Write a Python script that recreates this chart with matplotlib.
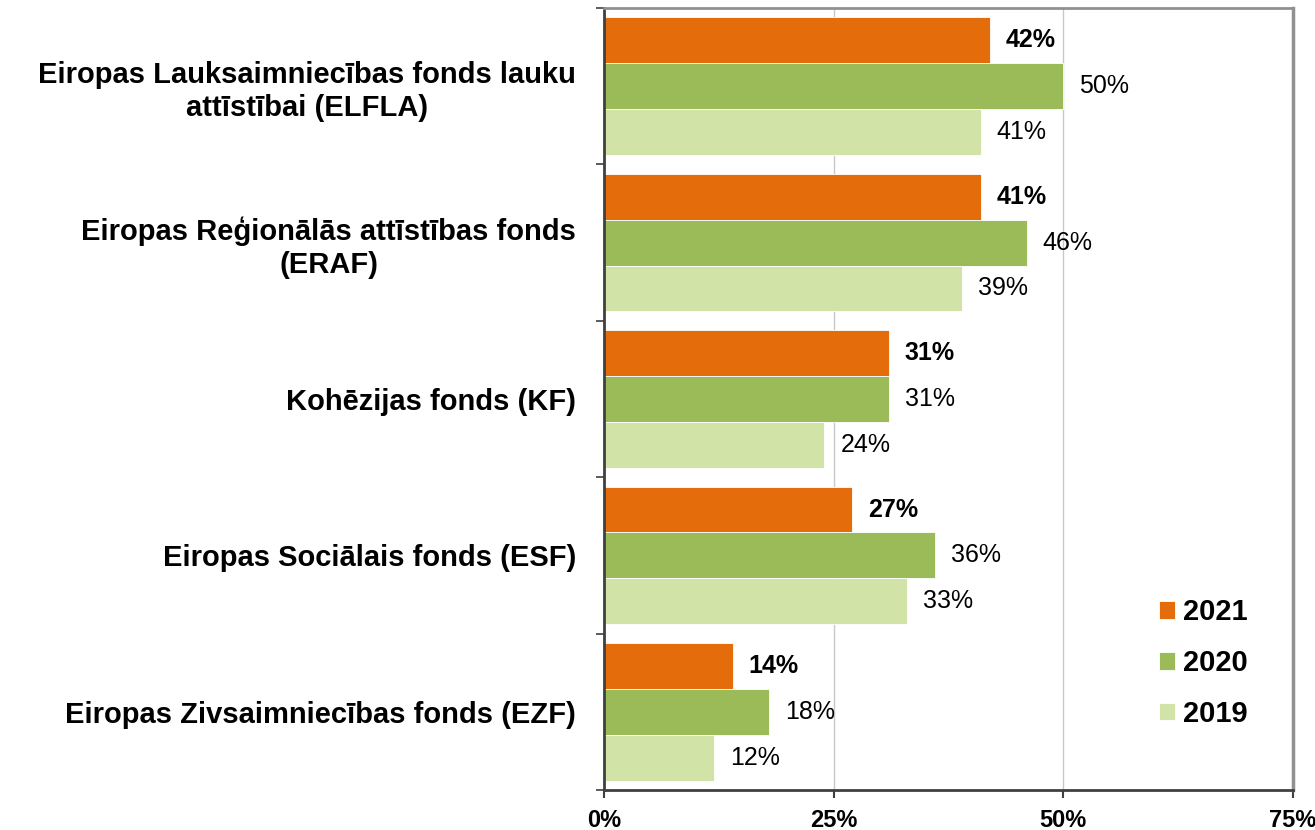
import numpy as np
import matplotlib.pyplot as plt

plt.rcParams["font.family"] = ["Liberation Sans", "DejaVu Sans"]

funds = [
    "Eiropas Lauksaimniecības fonds lauku\nattīstībai (ELFLA)",
    "Eiropas Reģionālās attīstības fonds\n(ERAF)",
    "Kohēzijas fonds (KF)",
    "Eiropas Sociālais fonds (ESF)",
    "Eiropas Zivsaimniecības fonds (EZF)",
]
years = ["2021", "2020", "2019"]
v2021 = [42, 41, 31, 27, 14]
v2020 = [50, 46, 31, 36, 18]
v2019 = [41, 39, 24, 33, 12]

ORANGE = "#E46C0A"
GREEN = "#9BBB59"
LIGHT = "#D2E3A8"

fig = plt.figure(figsize=(13.15, 8.3), dpi=100)
ax = fig.add_axes([604 / 1315, 40 / 830, 689 / 1315, 782 / 830])

y = np.arange(len(funds))
h = 0.293
series = [(v2021, ORANGE, -h, "bold"), (v2020, GREEN, 0, "normal"), (v2019, LIGHT, h, "normal")]
for (vals, col, off, fw), yr in zip(series, years):
    bars = ax.barh(y + off, vals, height=h, color=col, label=yr,
                   edgecolor="white", linewidth=0.6, zorder=2)
    for b, v in zip(bars, vals):
        ax.annotate(f"{v}%", (b.get_width(), b.get_y() + b.get_height() / 2),
                    xytext=(11.5, 0), textcoords="offset points",
                    va="center", ha="left", fontsize=18, fontweight=fw)

ax.set_xlim(0, 75)
ax.set_ylim(len(funds) - 0.5, -0.5)
ax.set_xticks([0, 25, 50, 75])
ax.set_xticklabels(["0%", "25%", "50%", "75%"], fontsize=17, fontweight="bold")
ax.tick_params(axis="x", length=6, width=1.5, color="#404040", pad=8)
ax.grid(axis="x", color="#c8c8c8", lw=1, zorder=0)

ax.set_yticks(y)
ax.set_yticklabels(funds, fontsize=21, fontweight="bold")
ax.tick_params(axis="y", which="major", length=0, pad=20)
ax.set_yticks(np.arange(-0.5, len(funds)), minor=True)
ax.tick_params(axis="y", which="minor", length=6, width=1.2, color="#404040")
for lbl in ax.get_yticklabels():
    lbl.set_multialignment("center")

for s in ["left", "bottom"]:
    ax.spines[s].set_color("#404040")
    ax.spines[s].set_linewidth(2)
ax.spines["top"].set_color("#909090")
ax.spines["top"].set_linewidth(2)
ax.spines["right"].set_color("#909090")
ax.spines["right"].set_linewidth(2.5)

leg = ax.legend(loc="upper left", bbox_to_anchor=(0.805, 0.245), frameon=False,
                borderpad=0, borderaxespad=0,
                prop={"size": 21, "weight": "bold"}, handlelength=0.55,
                handleheight=0.55, handletextpad=0.3, labelspacing=0.78)

fig.savefig("out.png", dpi=100)
